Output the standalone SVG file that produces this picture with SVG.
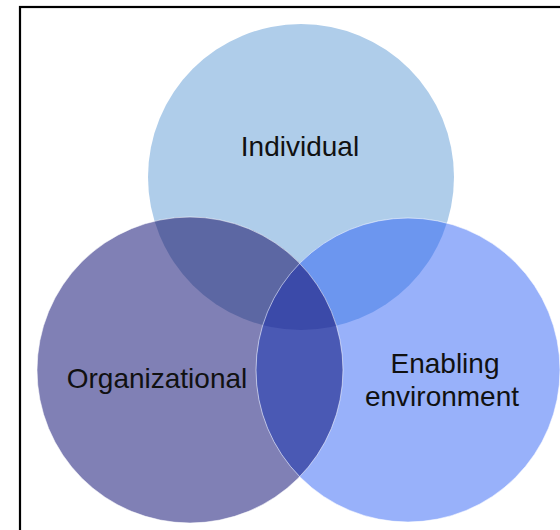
<svg xmlns="http://www.w3.org/2000/svg" width="560" height="530" viewBox="0 0 560 530">
<style>
.lbl{font-family:"Liberation Sans",Arial,sans-serif;font-size:28px;fill:#111;text-anchor:middle}
.edge{fill:none;stroke:#ffffff;stroke-opacity:0.55;stroke-width:1}
</style>
<defs>
<clipPath id="cA"><circle cx="301" cy="177" r="153"/></clipPath>
<clipPath id="cB"><circle cx="190" cy="370" r="153"/></clipPath>
<clipPath id="cC"><circle cx="408" cy="370" r="152"/></clipPath>
</defs>
<rect x="0" y="0" width="560" height="530" fill="#ffffff"/>
<rect x="20" y="7" width="560" height="540" fill="none" stroke="#000" stroke-width="2.2"/>
<g id="individual">
<circle cx="301" cy="177" r="153" fill="#afcdea"/>
</g>
<g id="organizational">
<circle cx="190" cy="370" r="153" fill="#8080b5"/>
</g>
<g id="enabling">
<circle cx="408" cy="370" r="152" fill="#98b1fa"/>
</g>
<g id="overlaps">
<g clip-path="url(#cA)"><circle cx="190" cy="370" r="153" fill="#5c67a3"/><circle cx="408" cy="370" r="152" fill="#6c96ef"/></g>
<g clip-path="url(#cB)"><circle cx="408" cy="370" r="152" fill="#4a59b4"/></g>
<g clip-path="url(#cA)"><g clip-path="url(#cB)"><circle cx="408" cy="370" r="152" fill="#3b4aa9"/></g></g>
<circle class="edge" cx="190" cy="370" r="153"/>
<circle class="edge" cx="408" cy="370" r="152"/>
</g>
<text class="lbl" x="300" y="156">Individual</text>
<text class="lbl" x="157" y="388">Organizational</text>
<text class="lbl" x="445" y="373">Enabling</text>
<text class="lbl" x="442" y="406">environment</text>
</svg>
